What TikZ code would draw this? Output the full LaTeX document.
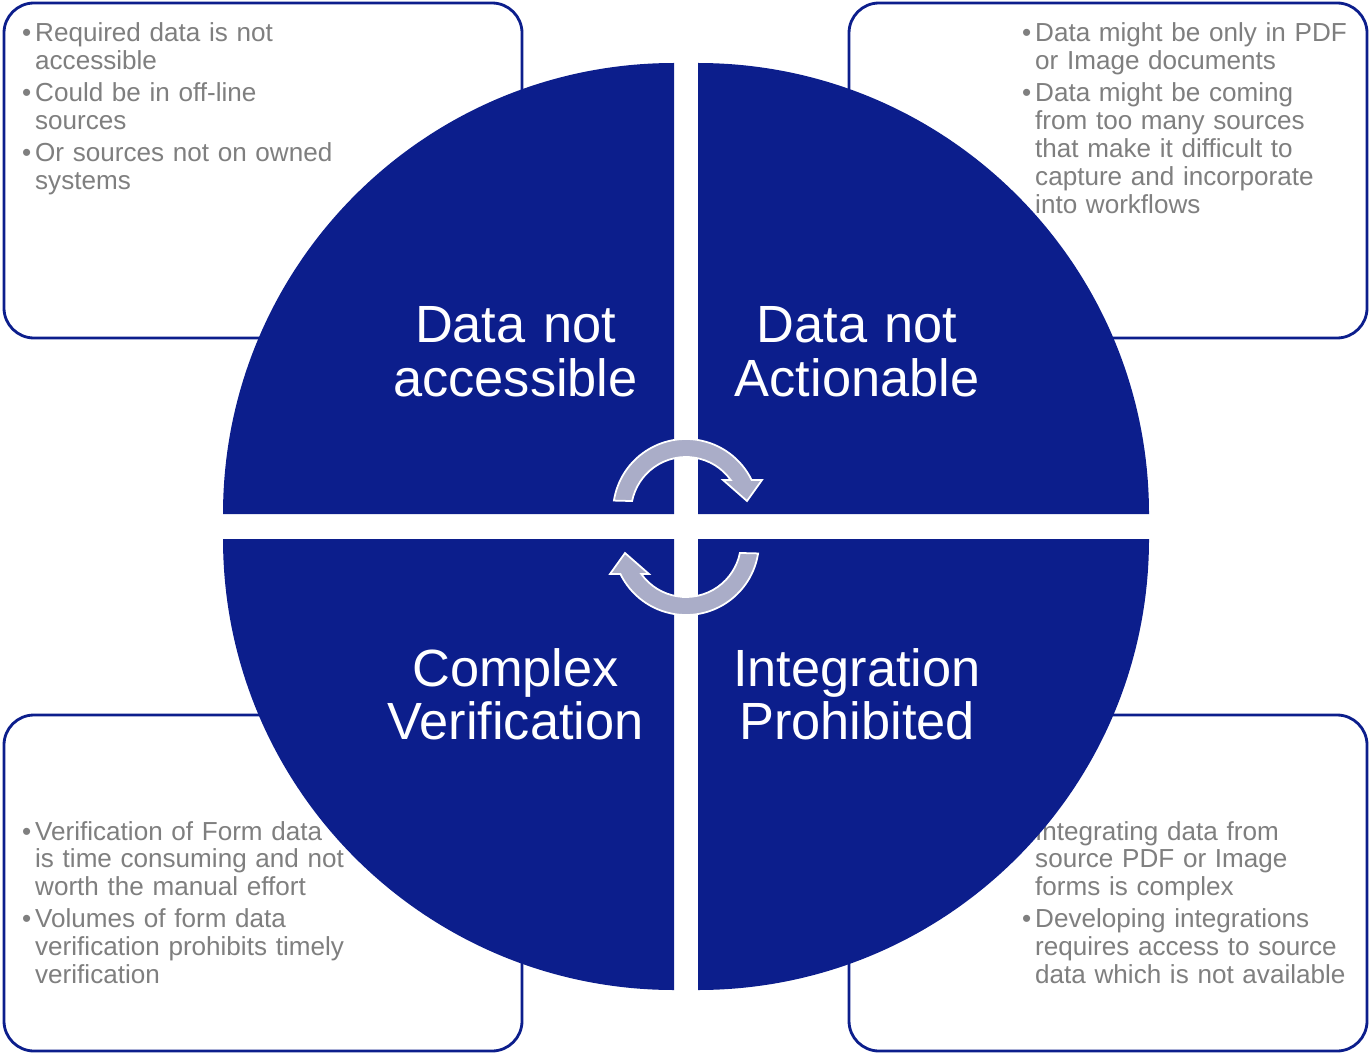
\documentclass[tikz,border=0pt]{standalone}
\usepackage{fontspec}
\setmainfont{Liberation Sans}
\usetikzlibrary{calc}
\definecolor{navy}{RGB}{12,30,140}
\definecolor{txtgray}{RGB}{127,127,127}
\definecolor{lav}{RGB}{170,173,200}
\newcommand{\itm}[1]{\noindent\llap{\textbullet\hspace{0.04cm}}#1\par\vspace{1.1pt}}

\begin{document}
\begin{tikzpicture}[
        box/.style={draw=navy, line width=0.8pt, rounded corners=0.3cm, fill=white},
        note/.style={anchor=base west, inner sep=0pt, text width=5cm, text=txtgray,
            font=\fontsize{7.42}{7.95}\selectfont},
        quad/.style={fill=navy},
        lbl/.style={anchor=base, inner sep=0pt, text width=4cm, align=center, text=white,
            font=\fontsize{14.9}{15.1}\selectfont},
        flow/.style={fill=lav, draw=white, line width=0.5pt}]
        \useasboundingbox (0,0) rectangle (13.69,10.53);
        % side boxes
        \draw[box] (0.04,10.50) rectangle (5.22,7.15);
        \draw[box] (8.49,10.50) rectangle (13.67,7.15);
        \draw[box] (0.04,3.38) rectangle (5.22,0.02);
        \draw[box] (8.49,3.38) rectangle (13.67,0.02);
        \node[note] (tl) at (0.345,10.11) {\itm{Required data is not\\accessible}
            \itm{Could be in off-line\\sources}
            \itm{Or sources not on owned\\systems}};
        \node[note] (tr) at (10.345,10.11) {\itm{Data might be only in PDF\\or Image documents}
            \itm{Data might be coming\\from too many sources\\that make it difficult to\\capture and incorporate\\into workflows}};
        \node[note] (bl) at (0.345,2.13) {\itm{Verification of Form data\\is time consuming and not\\worth the manual effort}
            \itm{Volumes of form data\\verification prohibits timely\\verification}};
        \node[note] (br) at (10.345,2.13) {\itm{Integrating data from\\source PDF or Image\\forms is complex}
            \itm{Developing integrations\\requires access to source\\data which is not available}};
        % quadrants
        \coordinate (A) at (6.74,5.39);
        \coordinate (B) at (6.98,5.39);
        \coordinate (C) at (6.74,5.14);
        \coordinate (D) at (6.98,5.14);
        \fill[quad] (A) -- ++(-4.51,0) arc[start angle=180, end angle=90, radius=4.51] -- cycle;
        \fill[quad] (B) -- ++(0,4.51) arc[start angle=90, end angle=0, radius=4.51] -- cycle;
        \fill[quad] (C) -- ++(0,-4.51) arc[start angle=270, end angle=180, radius=4.51] -- cycle;
        \fill[quad] (D) -- ++(4.51,0) arc[start angle=0, end angle=-90, radius=4.51] -- cycle;
        \node[lbl] (ul) at (5.155,7.10) {Data not\\accessible};
        \node[lbl] (ur) at (8.57,7.10) {Data not\\Actionable};
        \node[lbl] (ll) at (5.155,3.67) {Complex\\Verification};
        \node[lbl] (lr) at (8.57,3.67) {Integration\\Prohibited};
        % cycle arrows
        \coordinate (c1) at (6.86,5.41);
        \coordinate (c2) at (6.86,5.11);
        \draw[flow] (c1) ++(171:0.73) arc[start angle=171, end angle=26, radius=0.73]
                -- (7.62,5.73) -- (7.47,5.52) -- (7.23,5.73)
                -- ($(c1)+(35.6:0.55)$) arc[start angle=35.6, end angle=168.5, radius=0.55] -- cycle;
        \draw[flow] (c2) ++(-9:0.73) arc[start angle=-9, end angle=-154, radius=0.73]
                -- (6.10,4.79) -- (6.25,5.00) -- (6.49,4.79)
                -- ($(c2)+(-144.4:0.55)$) arc[start angle=-144.4, end angle=-11.5, radius=0.55] -- cycle;
\end{tikzpicture}
\end{document}
